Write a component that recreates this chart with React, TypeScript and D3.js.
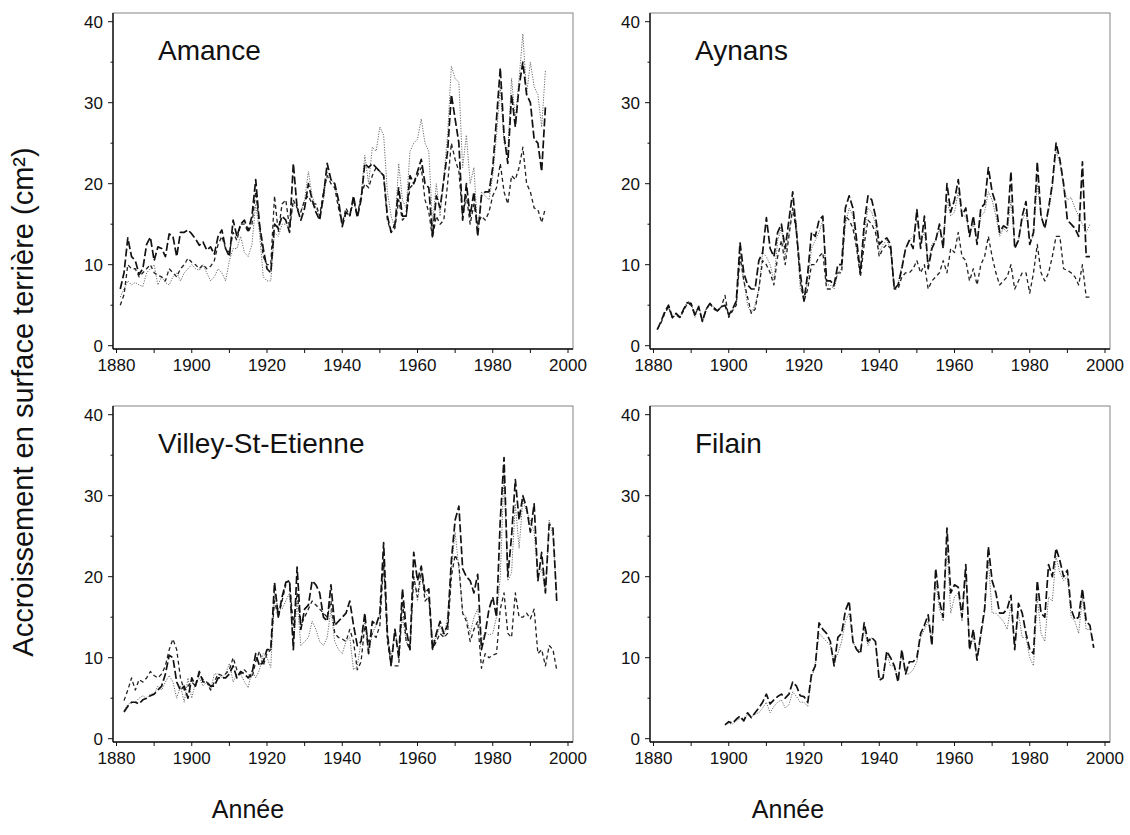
import React from "react";
import * as d3 from "d3";

// ---------- DATA ----------
const panelNames = ["Amance", "Aynans", "Villey-St-Etienne", "Filain"];
const xTicks = [1880, 1900, 1920, 1940, 1960, 1980, 2000];
const yTicks = [0, 10, 20, 30, 40];

const amanceStart = 1881;
const amanceA = [7,9,13.3,11,10.5,8.8,9.5,12.5,13.4,10.5, 12.2,12,11,13.8,13.5,11,14,14,14.3,13.8, 13.2,12.4,12.8,11.8,12.2,11.3,13.5,14.3,12,11, 15.5,13.5,15,15.5,14.2,16,20.5,15,12,9.5, 9,15,14.5,16,15.5,14,22.5,17,15.5,17, 20,18,16.5,15.5,18.5,22.5,20.5,20,18,14.7, 16.5,16,18.5,15.8,18,22.5,22,22.5,22,21.5, 21,16,14,15,19.5,16,16,21,20,21.5, 23,20,19.5,13.5,18.5,17,20.5,24,31,28, 25,15.5,20,16,19,13.5,18.5,19,19,22, 28,34.3,26,22.5,31,27,32,35,31,30, 25.5,25,21.5,29.5];
const amanceB = [5,6.3,10,9.5,9.5,8.5,9,9.5,10,9, 8.7,8.5,8,9.5,9,8.5,9.5,10,10.8,10.3, 10,9.5,10,9.5,9.8,10.5,12.5,13.5,12,11.5, 14,13,15,15,14,15,19,15,11,10, 10,18.5,14,17.5,18,14.5,18,17,16.5,18, 18.5,17.5,17.5,16,19,21,20,19.5,17,15, 17,16,18,16,18.5,20,19.5,21,22,21.5, 21,15.5,14,14.5,18,15.5,16,19.5,20,21, 22,18,16.5,13.3,16,15,15.5,20,25,23, 21.5,16,18.5,15,17.5,15,16,15.5,16.5,18.5, 19.5,22.5,19,17.5,21,20.5,22,24.5,20,19, 17,16.8,15.2,17];
const amanceC = [6,7,8,7.5,7.8,7.5,7.3,9,9.5,10, 7.5,8.5,7.8,7.5,8.5,9,8,9,9.5,10, 9.5,9.3,10,9,8,8.5,9.5,9,8,10.5, 12,12,13.5,11.5,11,12.5,17.5,14,8.5,8, 8,14,13.5,15,15,14.5,17.5,17,16.5,18, 21.5,18.5,17,16,18,21.5,20.5,20,17.5,15.5, 16.5,16,18,16,18.5,23.5,20,24.5,24,27, 26,19,16,14.5,22.5,18,17,24,25,25.5, 28,25,24,15,20,16,21,26,34.5,33, 32.5,22,26,20,22,14,19,18.5,18,21, 26,32,25,24,33,28,33,38.5,31,35, 32,31,27,34];

const aynansStart = 1881;
const aynansA = [2,3,4.2,5,3.5,4,3.5,4.5,5.3,5.2, 3.8,4.8,3,4.5,5.2,4.7,4.3,4.8,5,3.8, 4.5,5.5,12.7,9,7.5,7,7,10.5,11.5,15.8, 12,11,14,15,12,15.5,19,14,9,5.5, 9,14,13.5,15.5,16,8,8,7.5,10,10, 17,18.5,17,13,9,15,18.5,18,16,12.5, 13,13.3,12.5,7,7.5,9.5,12,13,12,16.8, 12,16,9.5,12,13,15,12,20,16.5,18, 20.5,16,17,13.5,16,12.5,17,17.5,22,19, 17.5,14,14.8,14.5,21.5,12,13,16,17.8,12.5, 14,22.7,16,14.5,17,20,25,23,20,15.5, 15,14.5,13.5,22.7,11,11];
const aynansB = [2,2.8,4,4.8,3.5,3.8,3.5,4.3,5.2,5, 3.8,4.8,3,4.5,5.2,4.5,4.3,4.8,6.2,3.5, 4.3,5,11,8,6,4,4.5,7,10.5,10, 9,7.5,11,13,10,13.5,17,14,8,5.5, 7,10,10,11,11.5,7,7,7.5,9,9, 16,15.5,14.5,12,8.5,12.5,15.5,15,14,11, 12,12.5,12,7,7,8.5,9,9,9.5,10.5, 9,10,7,8,8.5,9,10.5,9,12,11.5, 14,11,10.5,8,9.5,7.5,10,11,13.5,11, 9,7.5,8,8.5,10,7,8,9,9,6.5, 9,12.5,9,8,9,11,13.5,13.5,9.5,9.3, 9,8.5,7.5,10,6,6];
const aynansC = [2,3,4,4.7,3.3,4,3.5,4.5,5.5,5.3, 3.5,5,3,4.5,5.3,4.8,4.3,4.7,5,3.8, 4.5,5.5,11.5,8,5,4,5,7,11.5,11, 10,8,13,14.5,11,14,17,15,7,6, 8,12,13,14,15.5,7.5,7.5,7,9,9.5, 15,17,16,12,9,14,17,16.5,15,11.5, 12.5,13,12,7,7.5,10,12,13,13.5,15.5, 13,14,10,12.5,13,14.5,13,18,16,16.5, 19,16,16,14,15,13,16,16.5,19,18, 16,13.5,14.5,14,18,12.5,13,15.5,16.5,13, 13.5,20,16,14.5,16.5,19.5,24,22.5,19.5,18, 18.3,17,16,15,14,15];

const villeyStart = 1882;
const villeyA = [3.3,4,4.5,4.5,4.3,4.8,5,5.3,5.5,6, 6.5,8,10.3,10,7,6,6.5,5,7.5,6.5, 8.3,7,7,6.5,6.5,7.5,7.5,7.5,8,9, 7.5,8.3,8,7.5,8,10.5,9,9.5,11,11, 19.3,15,17.5,19.3,19.5,11,21.2,13.5,16,16.5, 19.5,19,18,15,14.5,19,14,14.5,15,15.5, 17,14,11.5,12,15.5,10.5,14.5,14,15.5,24.2, 13,9,13.5,10,18.5,13.5,11,23,19.5,21.3, 18,18.5,11,13,14.5,13,14,22,27,28.7, 21,20,19.5,18,20.3,11,13,16,17.5,15, 27,34.7,20,25,32,27,30,28.5,25.5,29, 19.5,23,18,26.5,26,17];
const villeyB = [4.7,6,7.5,6,7.3,7,7.5,8.3,7.8,7.5, 8,9,11,12.3,11,7.5,6,6.5,7,6.5, 8,7.3,7,6,7,8,7.8,8,8.5,10, 8.5,8,8.5,8,7.5,9.5,10.8,9,10.5,11, 17,15,17,19,19.3,14,18,14,15,16, 17,16.5,16,15.5,15,17,13,12.5,12.3,12, 13.5,12,8.5,9.5,14,12,13,12.5,14,22, 12,9,9,9,17,12,11,20,17.5,21, 17,17.5,11,12,13,12.5,13,20,22.7,21.5, 15.5,14.5,12,13.5,14.5,8.7,10.5,10,10.3,10.5, 16,18,13,12.5,18,15,15,15.5,14.8,16, 10.5,11,9,11.5,11,8.5];
const villeyC = [3.5,4.2,4.5,4.5,5,5.3,5,5.5,5.5,6.5, 6,7,7.8,7,5,6.5,4.5,7.5,5,7, 7.5,6.5,7,6,8,8,7.5,8,9.3,7, 8,8,7,6.3,8.5,7.5,8.5,10.5,10,8.8, 18,16,16,17,18,11.5,17,11.5,12,12.5, 14.5,13.5,12,11.5,12.5,16,12,11,10.5,12, 12.5,8.5,9,12,14.5,10.5,13,14,15.5,21.5, 12.5,10,13.5,10.5,15,12,11,20,17,20, 18,17.5,12,12.5,14,12.5,15,21,25.5,21, 15.5,15,13,15,16,12,13.2,12.8,13,15, 20,33,19.5,20.5,29,23.5,29.5,28,27,25.5, 20,21,18,27,25,18];

const filainStart = 1899;
const filainA = [1.7,2.1,1.9,2.4,2.8,2.2,3.2,2.6,3.2,3.8, 4.5,5.5,4.3,4.8,5.2,5.5,5,5.5,7,6.5, 5.3,5.2,4.5,8,9,14.3,13.5,13,12,9, 12.5,13,15.8,17,12,11,10.5,14.3,12,12.5, 12,7.2,7.5,10.8,10,9,7,11,8,9.5, 9.5,10,13,14,15.3,11.5,21,17,15,26, 18,19,18.7,15,21.5,11,13.5,9.7,13,16, 23.7,19.5,18,15.5,15.5,16,17.7,11,16.7,15.5, 13,11,10.5,19.5,15.5,15,21.5,20,23.5,22, 20,20.8,16,14.7,15,18.5,14.5,14,11.2];
const filainC = [1.7,1.9,1.8,2.2,2.5,2.3,3,2.7,3,3.2, 3.8,4.5,3.2,4,4.5,4.8,3.8,4.2,5.8,5.2, 4.5,4.5,4,7.5,9,13,12.5,12,11.5,9.5, 10.5,12,14.5,15.5,12,11,11,13.5,11.5,12.5, 12,7.5,7.5,10.5,9,9,7.5,10.5,8,8, 8.5,9.5,12.5,13.5,14.5,12,19.5,16,14.5,24, 15.5,17.5,18,14.5,20.5,11,12.5,10,12.5,15.5, 22,15.5,15.5,15,14.5,13.5,16.5,11.5,15.5,12.5, 12.5,10,9,17.5,13,12,17.5,17,22.5,20.5, 19.5,20,15,14.5,13,17.5,13.5,13.5,12];

// ---------- LAYOUT ----------
const W = 1130, H = 835;
const FONT = "'Liberation Sans', Arial, Helvetica, sans-serif";

type Series = { start: number; values: number[]; kind: "A" | "B" | "C" };
const panels = [
  { name: panelNames[0], left: 113, top: 13, series: [
    { start: amanceStart, values: amanceC, kind: "C" },
    { start: amanceStart, values: amanceB, kind: "B" },
    { start: amanceStart, values: amanceA, kind: "A" } ] as Series[] },
  { name: panelNames[1], left: 650, top: 13, series: [
    { start: aynansStart, values: aynansC, kind: "C" },
    { start: aynansStart, values: aynansB, kind: "B" },
    { start: aynansStart, values: aynansA, kind: "A" } ] as Series[] },
  { name: panelNames[2], left: 113, top: 406, series: [
    { start: villeyStart, values: villeyC, kind: "C" },
    { start: villeyStart, values: villeyB, kind: "B" },
    { start: villeyStart, values: villeyA, kind: "A" } ] as Series[] },
  { name: panelNames[3], left: 650, top: 406, series: [
    { start: filainStart, values: filainC, kind: "C" },
    { start: filainStart, values: filainA, kind: "A" } ] as Series[] },
];

const PW = 460, PH = 336;

const styles: Record<string, { stroke: string; width: number; dash: string }> = {
  A: { stroke: "#111", width: 1.7, dash: "8 3" },
  B: { stroke: "#222", width: 1.3, dash: "4 3" },
  C: { stroke: "#6a6a6a", width: 1, dash: "1.2 1.4" },
};

function Panel({ p }: { p: (typeof panels)[number] }) {
  const x = d3.scaleLinear().domain([1880, 2000]).range([p.left + 3.5, p.left + 455]);
  const y = d3.scaleLinear().domain([0, 40]).range([p.top + 332.7, p.top + 8.7]);
  const bottom = p.top + PH;
  const right = p.left + PW;
  const line = d3.line<[number, number]>().x((d) => x(d[0])).y((d) => y(d[1]));
  const minorX = d3.range(1880, 2001, 10);
  const minorY = d3.range(0, 41, 5);
  return (
    <g>
      <rect x={p.left} y={p.top} width={PW} height={PH} fill="none" stroke="#777" strokeWidth={0.9} />
      <line x1={p.left} x2={p.left} y1={p.top} y2={bottom} stroke="#111" strokeWidth={1.4} />
      <line x1={p.left} x2={right} y1={bottom} y2={bottom} stroke="#111" strokeWidth={1.4} />
      {minorY.map((v) => (
        <line key={"y" + v} x1={p.left - (v % 10 === 0 ? 5 : 2.5)} x2={p.left} y1={y(v)} y2={y(v)} stroke="#111" strokeWidth={1} />
      ))}
      {minorX.map((v) => (
        <line key={"x" + v} x1={x(v)} x2={x(v)} y1={bottom} y2={bottom + 4} stroke="#111" strokeWidth={1} />
      ))}
      {yTicks.map((v) => (
        <text key={"yl" + v} x={p.left - 10} y={y(v)} dy="0.36em" textAnchor="end" fontSize={17} fontFamily={FONT} fill="#111">{v}</text>
      ))}
      {xTicks.map((v) => (
        <text key={"xl" + v} x={x(v)} y={bottom + 22} textAnchor="middle" fontSize={17} fontFamily={FONT} fill="#111">{v}</text>
      ))}
      <text x={p.left + 45} y={p.top + 47} fontSize={28} fontFamily={FONT} fill="#111">{p.name}</text>
      {p.series.map((s, i) => {
        const pts: [number, number][] = s.values.map((v, k) => [s.start + k, v]);
        const st = styles[s.kind];
        return (
          <path key={i} d={line(pts) || ""} fill="none" stroke={st.stroke} strokeWidth={st.width}
            strokeDasharray={st.dash} strokeLinejoin="round" />
        );
      })}
    </g>
  );
}

export default function App() {
  return (
    <svg width={W} height={H} style={{ position: "absolute", left: 0, top: 0, background: "#fff" }}>
      <rect x={0} y={0} width={W} height={H} fill="#fff" />
      {panels.map((p) => <Panel key={p.name} p={p} />)}
      <text transform="translate(33,402) rotate(-90)" textAnchor="middle" fontSize={29} fontFamily={FONT} fill="#111">
        Accroissement en surface terrière (cm²)
      </text>
      <text x={248} y={818} textAnchor="middle" fontSize={25} fontFamily={FONT} fill="#111">Année</text>
      <text x={788} y={818} textAnchor="middle" fontSize={25} fontFamily={FONT} fill="#111">Année</text>
    </svg>
  );
}
